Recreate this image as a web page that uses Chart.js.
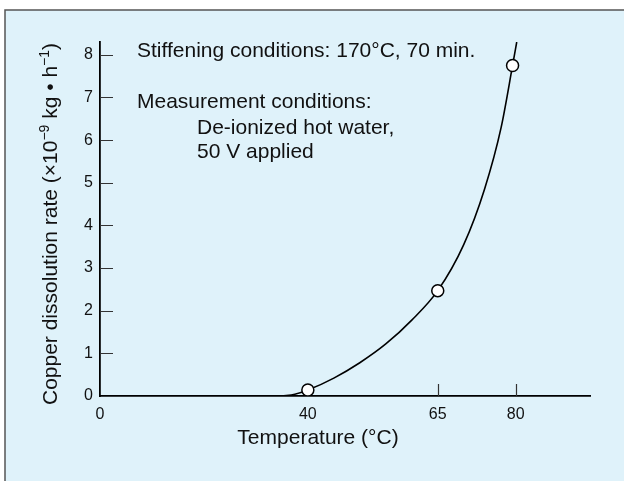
<!DOCTYPE html>
<html>
<head>
<meta charset="utf-8">
<script src="https://cdn.jsdelivr.net/npm/chart.js@4.4.1/dist/chart.umd.min.js"></script>
<style>
  html, body { margin: 0; padding: 0; background: #fff; }
  #wrap { width: 624px; height: 481px; position: relative; }
</style>
</head>
<body>
<div id="wrap"><canvas id="c" width="624" height="481"></canvas></div>
<script>
// ── Data ─────────────────────────────────────────────────
const xTicks = [0, 40, 65, 80];
const yTicks = [0, 1, 2, 3, 4, 5, 6, 7, 8];
// measured points
const measTemp = [40, 65, 79.4];
const measRate = [0.14, 2.47, 7.75];
// fitted curve
const curveTemp = [35, 37.5, 40, 45, 50, 55, 60, 65, 70, 74, 77.2, 79.4, 80.2];
const curveRate = [0, 0.04, 0.14, 0.42, 0.78, 1.22, 1.78, 2.47, 3.55, 4.85, 6.3, 7.75, 8.3];

const FONT = "'Liberation Sans', Arial, Helvetica, sans-serif";
const BG = '#dff2fa';

// ── Frame + background ───────────────────────────────────
const frame = {
  id: 'frame',
  beforeDraw(chart) {
    const c = chart.ctx;
    c.save();
    c.fillStyle = '#fff';
    c.fillRect(0, 0, chart.width, chart.height);
    c.fillStyle = BG;
    c.fillRect(5, 10, chart.width - 5, chart.height - 10);
    c.strokeStyle = '#555';
    c.lineWidth = 1.5;
    c.beginPath();
    c.moveTo(5, chart.height); c.lineTo(5, 10); c.lineTo(chart.width, 10);
    c.stroke();
    c.restore();
  }
};

// ── Inward tick marks (under the markers) ────────────────
const innerTicks = {
  id: 'innerTicks',
  beforeDatasetsDraw(chart) {
    const c = chart.ctx, x = chart.scales.x, y = chart.scales.y;
    c.save();
    c.strokeStyle = '#333';
    c.lineWidth = 1.2;
    c.beginPath();
    yTicks.filter(v => v > 0).forEach(v => {
      const py = Math.round(y.getPixelForValue(v)) + 0.5;
      c.moveTo(x.left, py); c.lineTo(x.left + 13, py);
    });
    xTicks.filter(v => v > 0).forEach(v => {
      const px = Math.round(x.getPixelForValue(v)) + 0.5;
      c.moveTo(px, y.bottom); c.lineTo(px, y.bottom - 12);
    });
    c.stroke();
    c.restore();
  }
};

// ── Titles + notes ───────────────────────────────────────
const texts = {
  id: 'texts',
  afterDraw(chart) {
    const c = chart.ctx;
    c.save();
    c.fillStyle = '#111';
    c.font = `21px ${FONT}`;
    c.textBaseline = 'alphabetic';
    c.textAlign = 'left';
    c.fillText('Stiffening conditions: 170°C, 70 min.', 137, 57);
    c.fillText('Measurement conditions:', 137, 108);
    c.fillText('De-ionized hot water,', 197, 134);
    c.fillText('50 V applied', 197, 158);

    c.textAlign = 'center';
    c.fillText('Temperature (°C)', 318, 444);

    // y title with superscripts
    const segs = [
      { t: 'Copper dissolution rate (×10', sup: false },
      { t: '−9', sup: true },
      { t: ' kg • h', sup: false },
      { t: '−1', sup: true },
      { t: ')', sup: false }
    ];
    const fN = `21px ${FONT}`, fS = `14px ${FONT}`;
    let total = 0;
    segs.forEach(s => { c.font = s.sup ? fS : fN; s.w = c.measureText(s.t).width; total += s.w; });
    c.translate(57, 224);
    c.rotate(-Math.PI / 2);
    c.textAlign = 'left';
    let pos = -total / 2;
    segs.forEach(s => {
      c.font = s.sup ? fS : fN;
      c.fillText(s.t, pos, s.sup ? -8 : 0);
      pos += s.w;
    });
    c.restore();
  }
};

new Chart(document.getElementById('c'), {
  type: 'scatter',
  data: {
    datasets: [
      {
        label: 'measured',
        data: measTemp.map((t, i) => ({ x: t, y: measRate[i] })),
        pointRadius: 6, pointHoverRadius: 6,
        pointBackgroundColor: '#fff', pointBorderColor: '#000', pointBorderWidth: 1.5,
        showLine: false
      },
      {
        label: 'curve',
        data: curveTemp.map((t, i) => ({ x: t, y: curveRate[i] })),
        showLine: true, pointRadius: 0, borderColor: '#000', borderWidth: 1.6,
        cubicInterpolationMode: 'monotone', fill: false
      }
    ]
  },
  options: {
    responsive: false, animation: false,
    layout: { padding: { top: 42, right: 34, left: 0, bottom: 0 } },
    plugins: { legend: { display: false }, tooltip: { enabled: false } },
    scales: {
      x: {
        type: 'linear', min: 0, max: 94.3,
        afterBuildTicks: s => { s.ticks = xTicks.map(v => ({ value: v })); },
        afterFit: s => { s.height = 85; },
        grid: { display: false, drawTicks: false },
        border: { display: true, color: '#000', width: 1.8 },
        ticks: { color: '#111', font: { family: FONT, size: 16 }, padding: 9, maxRotation: 0 }
      },
      y: {
        type: 'linear', min: 0, max: 8.3,
        afterBuildTicks: s => { s.ticks = yTicks.map(v => ({ value: v })); },
        afterFit: s => { s.width = 100; },
        grid: { display: false, drawTicks: false },
        border: { display: true, color: '#000', width: 1.8 },
        ticks: { color: '#111', font: { family: FONT, size: 16 }, padding: 7 }
      }
    }
  },
  plugins: [frame, innerTicks, texts]
});
</script>
</body>
</html>
